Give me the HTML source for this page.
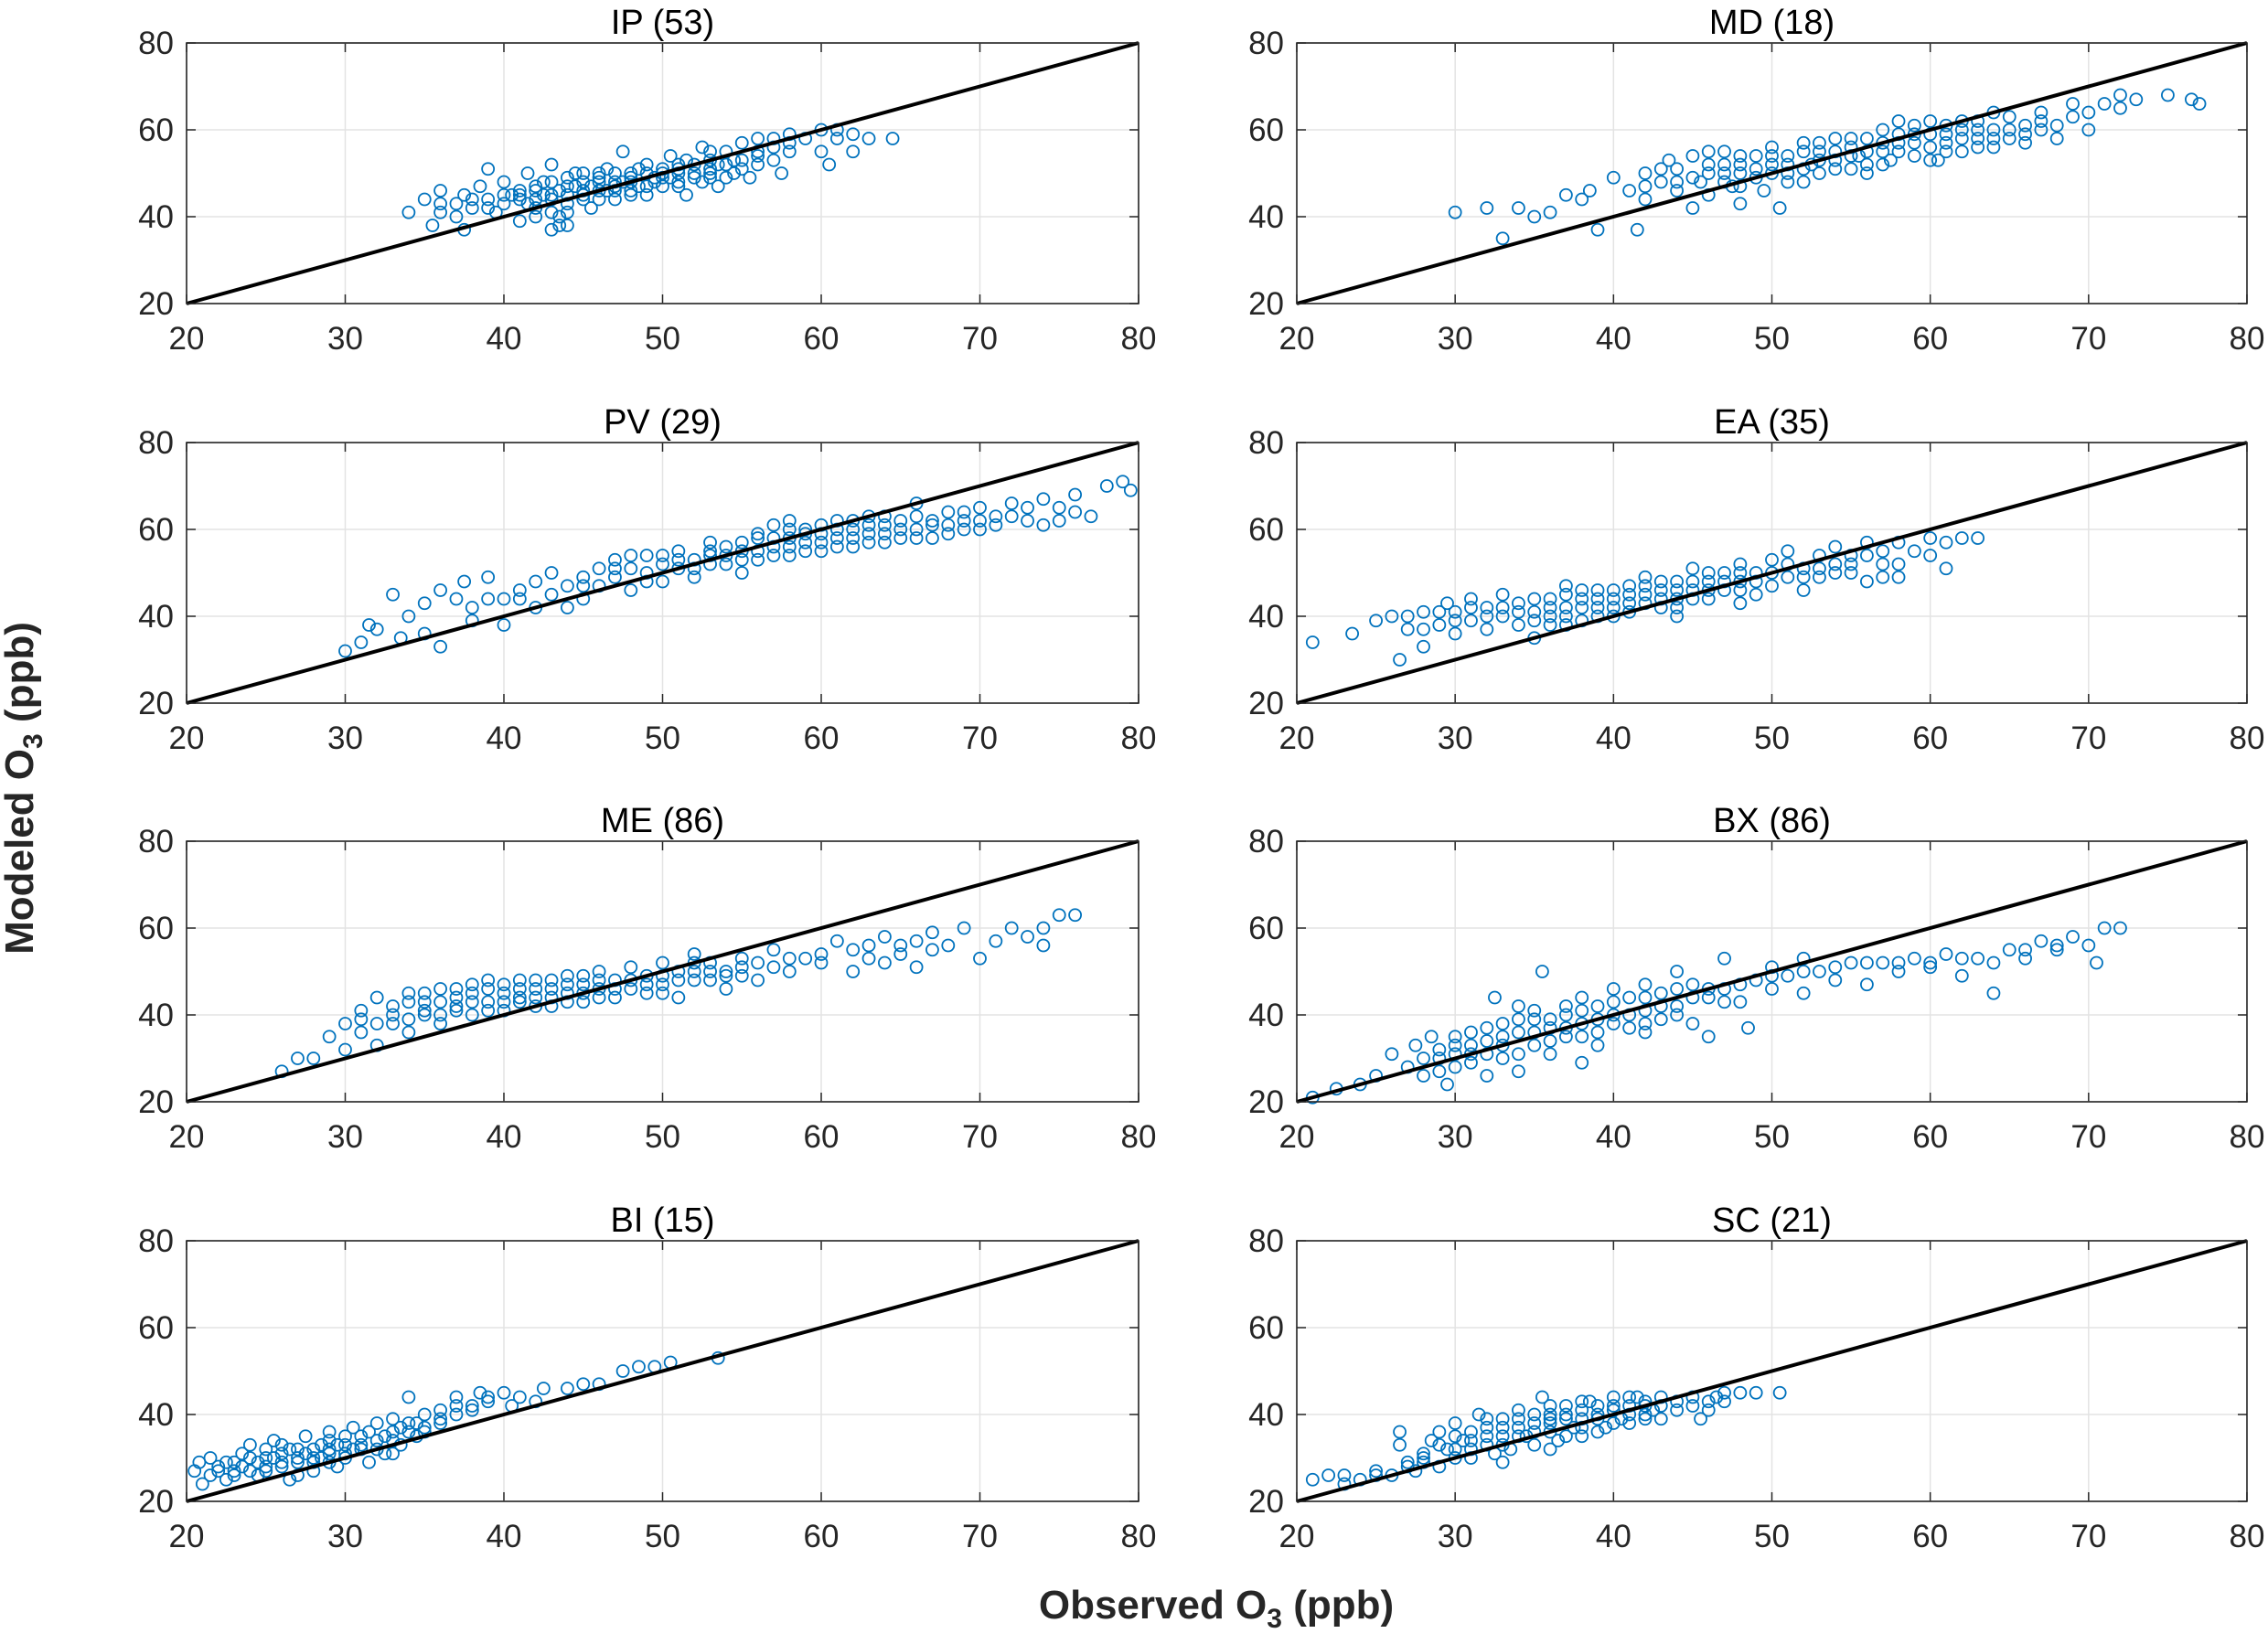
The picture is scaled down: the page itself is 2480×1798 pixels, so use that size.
<!DOCTYPE html>
<html><head><meta charset="utf-8"><style>
html,body{margin:0;padding:0;background:#fff;}
svg{display:block;font-family:"Liberation Sans",Arial,sans-serif;}
</style></head><body>
<svg id="fig" width="2480" height="1798" viewBox="0 0 2480 1798" xmlns="http://www.w3.org/2000/svg">
<text transform="translate(36,862) rotate(-90)" text-anchor="middle" font-size="44" font-weight="bold" fill="#262626">Modeled O<tspan font-size="30" dy="10">3</tspan><tspan dy="-10"> (ppb)</tspan></text>
<text x="1330" y="1770" text-anchor="middle" font-size="44" font-weight="bold" fill="#262626">Observed O<tspan font-size="30" dy="10">3</tspan><tspan dy="-10"> (ppb)</tspan></text>
</svg>
<script>
const titles = ["IP (53)","MD (18)","PV (29)","EA (35)","ME (86)","BX (86)","BI (15)","SC (21)"];
const xTicks = [20,30,40,50,60,70,80];
const yTicks = [20,40,60,80];
const ipData = [[34,41],[35,44],[35.5,38],[36,43],[36,46],[37,40],[37.5,37],[37.5,45],[38,42],[38.5,47],[39,44],[39,51],[39.5,41],[40,43],[40,48],[40.5,45],[41,39],[41,46],[41.5,50],[42,44],[42,42],[42.5,48],[43,37],[43,45],[43,52],[43.5,40],[44,47],[44,43],[44.5,50],[45,45],[45,48],[45.5,42],[46,49],[46,46],[46.5,51],[47,44],[47,48],[47.5,55],[48,46],[48,50],[48.5,47],[49,52],[49,45],[49.5,49],[50,51],[50,47],[50.5,54],[51,48],[51,50],[51.5,45],[52,52],[52,49],[52.5,56],[53,50],[53,53],[53.5,47],[54,52],[54,55],[54.5,50],[55,53],[55,57],[55.5,49],[56,55],[56,58],[57,56],[57,53],[57.5,50],[58,57],[58,59],[59,58],[60,60],[60,55],[60.5,52],[61,58],[61,60],[62,59],[62,55],[63,58],[64.5,58],[46,50],[47,47],[48,49],[44,49],[45,44],[43,41],[42,46],[41,44],[50,49],[51,52],[53,49],[56,52],
[41,45],[41.5,43],[42,47],[42.5,45],[43,44],[43,48],[43.5,46],[44,45],[44,41],[44.5,47],[45,46],[45,50],[45.5,47],[46,44],[46,48],[46.5,46],[47,50],[47,46],[47.5,48],[48,48],[48,45],[48.5,51],[49,47],[49,50],[49.5,48],[50,50],[50.5,49],[51,51],[51,47],[51.5,53],[52,50],[52.5,48],[53,51],[53,55],[53.5,52],[54,49],[54.5,53],[55,51],[56,54],[57,58],[58,55],[40,45],[39,42],[38,44],[37,43],[36,41],[42,40],[44,38],[43.5,38]];
const mdData = [[30,41],[32,42],[33,35],[34,42],[35,40],[36,41],[37,45],[38,44],[38.5,46],[39,37],[40,49],[41,46],[41.5,37],[42,50],[42,44],[43,48],[43.5,53],[44,46],[44,51],[45,54],[45,42],[45.5,48],[46,52],[46,45],[47,50],[47,55],[47.5,47],[48,52],[48,43],[49,49],[49,54],[49.5,46],[50,52],[50,56],[50.5,42],[51,50],[51,54],[52,48],[52,57],[52.5,52],[53,55],[53,50],[54,53],[54,58],[55,51],[55,56],[55.5,54],[56,58],[56,52],[57,55],[57,60],[57.5,53],[58,57],[58,62],[59,54],[59,59],[60,56],[60,62],[60.5,53],[61,59],[61,57],[62,60],[62,55],[63,62],[63,58],[64,60],[64,56],[65,58],[65,63],[66,57],[67,60],[67,64],[68,58],[69,63],[69,66],[70,60],[71,66],[72,68],[73,67],[75,68],[76.5,67],[77,66],[66,61],[64,64],
[45,49],[46,50],[47,48],[47,52],[48,50],[48,54],[49,51],[50,50],[50,54],[51,52],[51,48],[52,51],[52,55],[53,53],[53,57],[54,51],[54,55],[55,54],[55,58],[56,55],[56,50],[57,57],[57,52],[58,55],[58,59],[59,57],[59,61],[60,59],[60,53],[61,61],[61,55],[62,58],[62,62],[63,56],[63,60],[64,58],[65,60],[66,59],[67,62],[68,61],[44,48],[43,51],[42,47],[46,55],[48,47],[70,64],[72,65]];
const pvData = [[30,32],[31,34],[31.5,38],[32,37],[33,45],[33.5,35],[34,40],[35,43],[35,36],[36,46],[36,33],[37,44],[37.5,48],[38,39],[38,42],[39,49],[40,44],[40,38],[41,46],[42,48],[42,42],[43,45],[43,50],[44,47],[45,49],[45,44],[46,51],[46,47],[47,49],[47,53],[48,46],[48,51],[49,50],[49,54],[50,52],[50,48],[51,55],[51,51],[52,53],[52,49],[53,57],[53,54],[54,52],[54,56],[55,55],[55,50],[56,58],[56,53],[57,56],[57,61],[58,54],[58,58],[59,57],[59,60],[60,55],[60,59],[61,58],[61,62],[62,56],[62,60],[63,59],[63,63],[64,57],[64,61],[65,60],[66,58],[66,63],[67,61],[68,64],[68,59],[69,62],[70,65],[70,60],[71,63],[72,66],[73,62],[74,67],[75,65],[76,68],[77,63],[78,70],[79,71],[79.5,69],[74,61],[66,66],[58,62],[48,54],[44,42],
[50,54],[51,53],[52,51],[53,52],[53,55],[54,54],[55,57],[55,53],[56,55],[56,59],[57,54],[57,58],[58,56],[58,60],[59,55],[59,59],[60,57],[60,61],[61,56],[61,60],[62,58],[62,62],[63,57],[63,61],[64,59],[64,63],[65,58],[65,62],[66,60],[67,62],[67,58],[68,61],[69,60],[69,64],[70,62],[71,61],[72,63],[73,65],[75,62],[76,64],[45,47],[47,51],[49,48],[41,44],[39,44]];
const eaData = [[21,34],[23.5,36],[25,39],[26,40],[26.5,30],[27,37],[28,41],[28,33],[29,38],[29.5,43],[30,36],[30,41],[31,39],[31,44],[32,37],[32,42],[33,40],[33,45],[34,38],[34,43],[35,41],[35,35],[36,44],[36,40],[37,42],[37,47],[38,39],[38,44],[39,42],[39,46],[40,44],[40,40],[41,47],[41,43],[42,45],[42,49],[43,42],[43,46],[44,48],[44,44],[45,46],[45,51],[46,44],[46,48],[47,50],[47,46],[48,48],[48,52],[49,45],[49,50],[50,53],[50,47],[51,49],[51,55],[52,51],[52,46],[53,54],[53,49],[54,52],[54,56],[55,50],[55,54],[56,48],[56,57],[57,52],[57,55],[58,49],[58,57],[59,55],[60,58],[60,54],[61,51],[61,57],[62,58],[63,58],[37,38],[44,40],[48,43],
[32,40],[33,42],[34,41],[35,39],[35,44],[36,42],[36,38],[37,40],[37,45],[38,42],[38,46],[39,40],[39,44],[40,42],[40,46],[41,41],[41,45],[42,43],[42,47],[43,44],[43,48],[44,46],[44,42],[45,44],[45,48],[46,46],[46,50],[47,48],[48,46],[48,50],[49,48],[50,50],[51,52],[52,49],[53,51],[54,50],[55,52],[56,54],[57,49],[58,52],[30,39],[31,42],[29,41],[28,37],[27,40]];
const meData = [[26,27],[27,30],[28,30],[29,35],[30,32],[30,38],[31,41],[31,36],[32,44],[32,33],[33,38],[33,42],[34,36],[34,45],[35,40],[35,43],[36,38],[36,46],[37,42],[37,44],[38,40],[38,47],[39,43],[39,48],[40,45],[40,41],[41,46],[41,43],[42,44],[42,48],[43,42],[43,46],[44,45],[44,49],[45,43],[45,47],[46,46],[46,50],[47,44],[47,48],[48,46],[48,51],[49,45],[49,49],[50,47],[50,52],[51,48],[51,44],[52,50],[52,54],[53,48],[53,52],[54,46],[54,50],[55,49],[55,53],[56,48],[57,51],[57,55],[58,50],[59,53],[60,52],[61,57],[62,50],[62,55],[63,56],[64,52],[64,58],[65,54],[66,57],[66,51],[67,59],[68,56],[69,60],[70,53],[71,57],[72,60],[73,58],[74,56],[75,63],[76,63],[74,60],
[33,40],[34,39],[34,43],[35,41],[35,45],[36,40],[36,43],[37,41],[37,46],[38,43],[38,45],[39,41],[39,46],[40,43],[40,47],[41,44],[41,48],[42,42],[42,46],[43,44],[43,48],[44,43],[44,47],[45,45],[45,49],[46,44],[46,48],[47,46],[48,48],[49,47],[50,49],[50,45],[51,50],[52,48],[52,52],[53,50],[54,49],[55,51],[56,52],[58,53],[60,54],[63,53],[65,56],[67,55],[32,38],[31,39]];
const bxData = [[21,21],[22.5,23],[24,24],[25,26],[26,31],[27,28],[27.5,33],[28,26],[28.5,35],[29,30],[29.5,24],[30,33],[30,28],[31,36],[31,31],[32,26],[32,34],[32.5,44],[33,38],[33,30],[34,36],[34,42],[35,33],[35,39],[35.5,50],[36,37],[36,31],[37,40],[37,35],[38,44],[38,38],[39,33],[39,42],[40,46],[40,40],[41,37],[41,44],[42,41],[42,47],[43,39],[43,45],[44,50],[44,42],[45,38],[45,47],[46,44],[46,35],[47,46],[47,53],[48,43],[48.5,37],[49,48],[50,46],[50,51],[51,49],[52,53],[52,45],[53,50],[54,48],[55,52],[56,47],[57,52],[58,50],[59,53],[60,51],[61,54],[62,49],[63,53],[64,45],[65,55],[66,53],[67,57],[68,55],[69,58],[70,56],[70.5,52],[71,60],[72,60],[34,27],[38,29],[42,36],
[28,30],[29,32],[29,27],[30,31],[30,35],[31,29],[31,33],[32,31],[32,37],[33,33],[33,35],[34,31],[34,39],[35,36],[35,41],[36,34],[36,39],[37,37],[37,42],[38,35],[38,41],[39,39],[39,36],[40,38],[40,43],[41,40],[42,38],[42,44],[43,42],[44,40],[44,46],[45,44],[46,46],[47,43],[48,47],[50,49],[52,50],[54,51],[56,52],[58,52],[60,52],[62,53],[64,52],[66,55],[68,56]];
const biData = [[20.5,27],[21,24],[21.5,30],[22,27],[22.5,25],[23,29],[23.5,31],[24,27],[24,33],[24.5,26],[25,30],[25.5,34],[26,28],[26,31],[26.5,25],[27,32],[27,29],[27.5,35],[28,30],[28,27],[28.5,33],[29,31],[29,36],[29.5,28],[30,33],[30,30],[30.5,37],[31,32],[31,35],[31.5,29],[32,34],[32,38],[32.5,31],[33,36],[33,39],[33.5,33],[34,38],[34,44],[34.5,35],[35,40],[35,37],[36,41],[36,38],[37,42],[37,44],[38,41],[38.5,45],[39,43],[40,45],[40.5,42],[41,44],[42,43],[42.5,46],[44,46],[45,47],[46,47],[47.5,50],[48.5,51],[49.5,51],[50.5,52],[53.5,53],[26,33],[23,26],[25,28],[29,34],[33,31],
[22,28],[22.5,29],[23,27],[23.5,28],[24,30],[24.5,29],[25,27],[25,32],[25.5,30],[26,29],[26.5,32],[27,30],[27.5,31],[28,32],[28,29],[28.5,30],[29,32],[29.5,33],[30,31],[30,35],[30.5,32],[31,33],[31.5,36],[32,32],[32.5,35],[33,34],[33.5,37],[34,36],[34.5,38],[35,36],[36,39],[37,40],[38,42],[39,44],[21.5,26],[20.8,29],[27,26],[29,29]];
const scData = [[21,25],[22,26],[23,26],[24,25],[25,27],[26,26],[26.5,36],[26.5,33],[27,29],[27.5,27],[28,31],[28.5,34],[29,28],[29,36],[29.5,32],[30,30],[30,38],[30.5,34],[31,32],[31,36],[31.5,40],[32,33],[32,37],[32.5,31],[33,35],[33,39],[33.5,32],[34,37],[34,41],[34.5,35],[35,38],[35,33],[35.5,44],[36,40],[36,36],[36.5,34],[37,39],[37,42],[37.5,37],[38,41],[38,35],[38.5,43],[39,39],[39,42],[39.5,37],[40,41],[40,44],[40.5,39],[41,42],[41,38],[41.5,44],[42,40],[42,43],[42.5,41],[43,44],[43,39],[44,43],[45,42],[45.5,39],[46,41],[46.5,44],[47,43],[48,45],[49,45],[50.5,45],[28,30],[33,29],[36,32],
[29,33],[30,32],[30,35],[31,34],[31,30],[32,35],[32,39],[33,33],[33,37],[34,35],[34,39],[35,36],[35,40],[36,38],[36,42],[37,40],[37,35],[38,39],[38,43],[39,40],[39,36],[40,42],[40,38],[41,40],[41,44],[42,42],[42,39],[43,42],[44,41],[45,44],[46,43],[47,45],[28,29],[27,28],[25,26],[23,24],[38,37],[36,39]];
const allData = [ipData,mdData,pvData,eaData,meData,bxData,biData,scData];

const NS = "http://www.w3.org/2000/svg";
const svg = document.getElementById('fig');
const colX = [204, 1418], colW = [1041, 1039];
const rowY = [47, 484, 920, 1357], H = 285;
function mk(tag, attrs, parent){const e=document.createElementNS(NS,tag);for(const k in attrs)e.setAttribute(k,attrs[k]);parent.appendChild(e);return e;}

allData.forEach((data, i) => {
  const x0 = colX[i%2], w = colW[i%2], y0 = rowY[Math.floor(i/2)];
  const sx = v => x0 + (v-20)/60*w;
  const sy = v => y0 + H - (v-20)/60*H;
  const slug = titles[i].split(' ')[0].toLowerCase();
  const g = mk('g', {}, svg);
  
  
  xTicks.forEach(t => {
    const l = mk('line', {x1:sx(t),x2:sx(t),y1:y0,y2:y0+H,stroke:'#e3e3e3','stroke-width':1.5}, g);
    
    
    mk('line', {x1:sx(t),x2:sx(t),y1:y0+H,y2:y0+H-10,stroke:'#262626','stroke-width':1.5}, g);
    mk('line', {x1:sx(t),x2:sx(t),y1:y0,y2:y0+10,stroke:'#262626','stroke-width':1.5}, g);
    const tx = mk('text', {x:sx(t),y:y0+H+50,'text-anchor':'middle','font-size':35,fill:'#262626'}, g);
    tx.textContent = t;
    
    
  });
  yTicks.forEach(t => {
    const l = mk('line', {x1:x0,x2:x0+w,y1:sy(t),y2:sy(t),stroke:'#e3e3e3','stroke-width':1.5}, g);
    
    
    mk('line', {x1:x0,x2:x0+10,y1:sy(t),y2:sy(t),stroke:'#262626','stroke-width':1.5}, g);
    mk('line', {x1:x0+w-10,x2:x0+w,y1:sy(t),y2:sy(t),stroke:'#262626','stroke-width':1.5}, g);
    const tx = mk('text', {x:x0-14,y:sy(t)+12,'text-anchor':'end','font-size':35,fill:'#262626'}, g);
    tx.textContent = t;
    
    
  });
  data.forEach(p => {
    const c = mk('circle', {cx:sx(p[0]),cy:sy(p[1]),r:6.5,fill:'none',stroke:'#0072BD','stroke-width':1.8}, g);
    
    
  });
  const d = mk('line', {x1:sx(20),y1:sy(20),x2:sx(80),y2:sy(80),stroke:'#000','stroke-width':4}, g);
  
  
  const b = mk('rect', {x:x0,y:y0,width:w,height:H,fill:'none',stroke:'#262626','stroke-width':1.6}, g);
  
  
  const ti = mk('text', {x:x0+w/2,y:y0-10,'text-anchor':'middle','font-size':38,fill:'#000'}, g);
  ti.textContent = titles[i];
  
  
});
</script>
</body></html>
